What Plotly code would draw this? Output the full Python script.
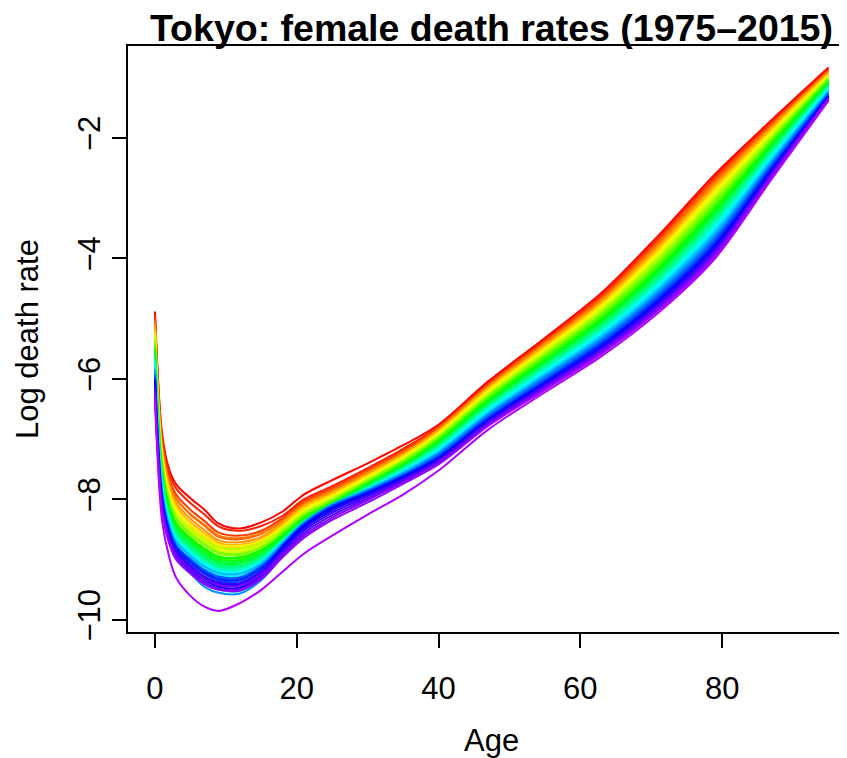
import colorsys
import plotly.graph_objects as go

# ---- data ----
years = list(range(1975, 2016))
ages = [0, 1, 2, 3, 5, 7, 9, 12, 15, 18, 21, 25, 30, 35, 40, 47, 55, 63, 71, 79, 87, 95]

# log death rate at each age, one value per year 1975..2015
lm_a0 = [-4.88, -4.92, -4.98, -5.02, -5.06, -5.10, -5.16, -5.20, -5.24, -5.28,
         -5.30, -5.34, -5.38, -5.41, -5.44, -5.46, -5.50, -5.52, -5.56, -5.58,
         -5.62, -5.64, -5.66, -5.70, -5.74, -5.76, -5.80, -5.85, -5.83, -5.88,
         -5.92, -5.94, -5.98, -6.00, -6.04, -6.08, -6.12, -6.16, -6.22, -6.26,
         -6.33]
lm_a1 = [-6.90, -6.95, -7.02, -7.08, -7.11, -7.15, -7.20, -7.24, -7.26, -7.30,
         -7.34, -7.35, -7.41, -7.42, -7.47, -7.50, -7.53, -7.54, -7.60, -7.60,
         -7.65, -7.66, -7.71, -7.74, -7.77, -7.78, -7.83, -7.96, -7.85, -8.00,
         -7.91, -7.92, -7.97, -7.97, -8.03, -8.07, -8.05, -8.13, -8.11, -8.18,
         -8.35]
lm_a2 = [-7.50, -7.56, -7.64, -7.70, -7.72, -7.77, -7.82, -7.86, -7.87, -7.92,
         -7.95, -7.95, -8.02, -8.02, -8.08, -8.11, -8.13, -8.13, -8.20, -8.19,
         -8.25, -8.25, -8.30, -8.33, -8.36, -8.36, -8.42, -8.58, -8.42, -8.62,
         -8.48, -8.48, -8.54, -8.53, -8.59, -8.63, -8.60, -8.69, -8.66, -8.73,
         -8.95]
lm_a3 = [-7.75, -7.82, -7.92, -7.98, -8.00, -8.06, -8.11, -8.16, -8.16, -8.22,
         -8.25, -8.24, -8.32, -8.31, -8.38, -8.41, -8.43, -8.42, -8.50, -8.48,
         -8.55, -8.54, -8.59, -8.62, -8.66, -8.65, -8.71, -8.90, -8.70, -8.94,
         -8.77, -8.76, -8.82, -8.80, -8.87, -8.91, -8.86, -8.96, -8.92, -9.00,
         -9.30]
lm_a5 = [-7.98, -8.06, -8.17, -8.25, -8.24, -8.32, -8.38, -8.44, -8.42, -8.49,
         -8.52, -8.49, -8.58, -8.56, -8.63, -8.66, -8.68, -8.65, -8.74, -8.71,
         -8.79, -8.77, -8.82, -8.85, -8.90, -8.88, -8.95, -9.18, -8.93, -9.22,
         -9.01, -8.99, -9.06, -9.03, -9.11, -9.16, -9.10, -9.20, -9.14, -9.23,
         -9.60]
lm_a7 = [-8.17, -8.25, -8.36, -8.44, -8.42, -8.51, -8.56, -8.62, -8.60, -8.67,
         -8.70, -8.66, -8.76, -8.74, -8.81, -8.84, -8.86, -8.82, -8.92, -8.89,
         -8.97, -8.95, -9.00, -9.03, -9.08, -9.06, -9.13, -9.40, -9.11, -9.45,
         -9.19, -9.17, -9.24, -9.21, -9.29, -9.34, -9.28, -9.38, -9.32, -9.41,
         -9.78]
lm_a9 = [-8.40, -8.45, -8.55, -8.62, -8.60, -8.68, -8.72, -8.78, -8.75, -8.82,
         -8.85, -8.80, -8.90, -8.88, -8.95, -8.98, -9.00, -8.95, -9.05, -9.02,
         -9.10, -9.08, -9.12, -9.15, -9.20, -9.18, -9.25, -9.50, -9.22, -9.55,
         -9.30, -9.28, -9.35, -9.32, -9.40, -9.45, -9.38, -9.48, -9.42, -9.50,
         -9.85]
lm_a12 = [-8.48, -8.52, -8.60, -8.66, -8.64, -8.71, -8.75, -8.80, -8.77, -8.84,
          -8.87, -8.82, -8.92, -8.90, -8.96, -8.99, -9.01, -8.96, -9.06, -9.03,
          -9.11, -9.09, -9.13, -9.16, -9.21, -9.19, -9.26, -9.52, -9.23, -9.56,
          -9.31, -9.29, -9.36, -9.33, -9.41, -9.46, -9.39, -9.49, -9.43, -9.51,
          -9.72]
lm_a15 = [-8.38, -8.44, -8.52, -8.57, -8.56, -8.62, -8.66, -8.70, -8.68, -8.73,
          -8.76, -8.72, -8.80, -8.79, -8.84, -8.86, -8.88, -8.84, -8.92, -8.90,
          -8.96, -8.95, -8.98, -9.00, -9.05, -9.03, -9.08, -9.30, -9.06, -9.34,
          -9.12, -9.10, -9.17, -9.14, -9.22, -9.26, -9.20, -9.29, -9.24, -9.32,
          -9.50]
lm_a18 = [-8.20, -8.27, -8.31, -8.34, -8.36, -8.38, -8.41, -8.44, -8.46, -8.48,
          -8.50, -8.49, -8.53, -8.55, -8.57, -8.59, -8.60, -8.61, -8.63, -8.64,
          -8.66, -8.67, -8.68, -8.70, -8.71, -8.72, -8.74, -8.90, -8.72, -8.92,
          -8.75, -8.78, -8.76, -8.80, -8.79, -8.83, -8.86, -8.90, -8.93, -8.96,
          -9.20]
lm_a21 = [-7.92, -8.00, -8.03, -8.06, -8.08, -8.10, -8.12, -8.15, -8.17, -8.19,
          -8.21, -8.23, -8.25, -8.27, -8.28, -8.30, -8.31, -8.33, -8.34, -8.35,
          -8.37, -8.38, -8.39, -8.41, -8.42, -8.43, -8.44, -8.48, -8.38, -8.46,
          -8.40, -8.43, -8.41, -8.45, -8.44, -8.48, -8.52, -8.56, -8.60, -8.64,
          -8.90]
lm_a25 = [-7.68, -7.78, -7.81, -7.84, -7.86, -7.88, -7.90, -7.92, -7.94, -7.96,
          -7.98, -7.99, -8.01, -8.02, -8.03, -8.05, -8.06, -8.07, -8.08, -8.09,
          -8.10, -8.11, -8.12, -8.13, -8.14, -8.15, -8.16, -8.18, -8.08, -8.12,
          -8.10, -8.13, -8.11, -8.15, -8.14, -8.18, -8.22, -8.26, -8.30, -8.34,
          -8.60]
lm_a30 = [-7.40, -7.48, -7.51, -7.53, -7.55, -7.57, -7.59, -7.61, -7.62, -7.64,
          -7.66, -7.67, -7.69, -7.70, -7.71, -7.73, -7.74, -7.75, -7.76, -7.77,
          -7.78, -7.79, -7.80, -7.81, -7.82, -7.83, -7.84, -7.85, -7.83, -7.85,
          -7.86, -7.87, -7.88, -7.89, -7.90, -7.92, -7.95, -7.98, -8.01, -8.05,
          -8.25]
lm_a35 = [-7.10, -7.16, -7.19, -7.21, -7.23, -7.25, -7.26, -7.28, -7.30, -7.31,
          -7.33, -7.35, -7.36, -7.37, -7.39, -7.40, -7.42, -7.43, -7.44, -7.46,
          -7.47, -7.48, -7.49, -7.51, -7.52, -7.53, -7.54, -7.55, -7.56, -7.57,
          -7.59, -7.60, -7.61, -7.62, -7.63, -7.65, -7.67, -7.69, -7.71, -7.74,
          -7.92]
lm_a40 = [-6.76, -6.79, -6.80, -6.82, -6.83, -6.85, -6.87, -6.88, -6.90, -6.92,
          -6.93, -6.95, -6.96, -6.98, -7.00, -7.01, -7.03, -7.04, -7.06, -7.08,
          -7.09, -7.11, -7.12, -7.14, -7.16, -7.17, -7.19, -7.21, -7.22, -7.24,
          -7.25, -7.27, -7.29, -7.30, -7.32, -7.34, -7.35, -7.37, -7.39, -7.42,
          -7.52]
lm_a47 = [-6.04, -6.07, -6.09, -6.11, -6.12, -6.14, -6.16, -6.18, -6.20, -6.22,
          -6.24, -6.26, -6.28, -6.30, -6.31, -6.33, -6.35, -6.37, -6.39, -6.41,
          -6.43, -6.45, -6.46, -6.48, -6.50, -6.52, -6.54, -6.56, -6.58, -6.59,
          -6.61, -6.63, -6.65, -6.67, -6.68, -6.70, -6.72, -6.74, -6.76, -6.78,
          -6.84]
lm_a55 = [-5.32, -5.35, -5.37, -5.39, -5.41, -5.43, -5.46, -5.48, -5.50, -5.52,
          -5.54, -5.57, -5.59, -5.61, -5.63, -5.65, -5.68, -5.70, -5.72, -5.74,
          -5.76, -5.79, -5.81, -5.83, -5.85, -5.87, -5.90, -5.92, -5.94, -5.96,
          -5.98, -6.01, -6.03, -6.05, -6.07, -6.09, -6.11, -6.13, -6.15, -6.18,
          -6.22]
lm_a63 = [-4.57, -4.61, -4.63, -4.66, -4.68, -4.71, -4.74, -4.76, -4.79, -4.81,
          -4.84, -4.87, -4.89, -4.92, -4.94, -4.97, -5.00, -5.02, -5.05, -5.07,
          -5.10, -5.13, -5.15, -5.18, -5.20, -5.23, -5.26, -5.28, -5.31, -5.33,
          -5.36, -5.38, -5.41, -5.43, -5.46, -5.48, -5.50, -5.53, -5.55, -5.58,
          -5.62]
lm_a71 = [-3.62, -3.66, -3.69, -3.73, -3.76, -3.79, -3.83, -3.86, -3.90, -3.93,
          -3.96, -4.00, -4.03, -4.06, -4.09, -4.13, -4.16, -4.19, -4.22, -4.25,
          -4.29, -4.32, -4.35, -4.38, -4.41, -4.44, -4.47, -4.50, -4.53, -4.56,
          -4.59, -4.62, -4.65, -4.68, -4.71, -4.74, -4.77, -4.80, -4.83, -4.86,
          -4.90]
lm_a79 = [-2.60, -2.64, -2.67, -2.71, -2.74, -2.78, -2.81, -2.85, -2.88, -2.92,
          -2.95, -2.99, -3.02, -3.06, -3.09, -3.13, -3.16, -3.20, -3.23, -3.27,
          -3.30, -3.34, -3.37, -3.41, -3.44, -3.48, -3.51, -3.55, -3.58, -3.62,
          -3.65, -3.69, -3.72, -3.76, -3.79, -3.83, -3.86, -3.89, -3.93, -3.96,
          -4.00]
lm_a87 = [-1.70, -1.73, -1.75, -1.78, -1.80, -1.82, -1.85, -1.87, -1.90, -1.92,
          -1.95, -1.97, -2.00, -2.02, -2.04, -2.07, -2.09, -2.12, -2.14, -2.17,
          -2.19, -2.21, -2.24, -2.26, -2.29, -2.31, -2.34, -2.36, -2.38, -2.41,
          -2.43, -2.46, -2.48, -2.51, -2.53, -2.55, -2.58, -2.60, -2.63, -2.65,
          -2.68]
lm_a95 = [-0.83, -0.86, -0.87, -0.89, -0.90, -0.91, -0.93, -0.94, -0.96, -0.97,
          -0.98, -1.00, -1.01, -1.03, -1.04, -1.05, -1.07, -1.08, -1.10, -1.11,
          -1.12, -1.14, -1.15, -1.16, -1.18, -1.19, -1.21, -1.22, -1.23, -1.25,
          -1.26, -1.27, -1.29, -1.30, -1.31, -1.32, -1.33, -1.34, -1.35, -1.36,
          -1.38]

age_columns = [lm_a0, lm_a1, lm_a2, lm_a3, lm_a5, lm_a7, lm_a9, lm_a12, lm_a15,
               lm_a18, lm_a21, lm_a25, lm_a30, lm_a35, lm_a40, lm_a47, lm_a55,
               lm_a63, lm_a71, lm_a79, lm_a87, lm_a95]
for col in age_columns:
    assert len(col) == len(years), len(col)

x_ticks = [0, 20, 40, 60, 80]
y_ticks = [-10, -8, -6, -4, -2]

# ---- styling ----
FONT = "Liberation Sans, Arial, Helvetica, sans-serif"
OFF = 8                      # page body margin of the html page
PAGE_W, PAGE_H = 847, 758
W, H = PAGE_W - OFF, PAGE_H - OFF
BOX_L, BOX_T, BOX_B = 128, 46, 632     # plot box in page pixels
L, R, T, B = BOX_L - OFF, 0, BOX_T - OFF, H - (BOX_B - OFF)
PW, PH = W - L - R, H - T - B


def px_x(px):   # page x -> paper x
    return (px - OFF - L) / PW


def px_y(py):   # page y -> paper y
    return 1 - (py - OFF - T) / PH


n_pal = round(len(years) * 1.25)


def rainbow(i):
    r, g, b = colorsys.hsv_to_rgb(i / n_pal, 1.0, 1.0)
    return "#%02X%02X%02X" % (round(r * 255), round(g * 255), round(b * 255))


fig = go.Figure()
for i, yr in enumerate(years):
    fig.add_trace(go.Scatter(
        x=ages, y=[col[i] for col in age_columns], mode="lines", name=str(yr),
        line=dict(color=rainbow(i), width=2, shape="spline", smoothing=0.9),
        showlegend=False, hoverinfo="skip"))

px_per_x = 7.09
x_lo = -3.8
x_hi = x_lo + PW / px_per_x

fig.update_layout(
    width=W, height=H,
    margin=dict(l=L, r=R, t=T, b=B, pad=0),
    paper_bgcolor="white", plot_bgcolor="white",
    font=dict(family=FONT, color="black", size=30),
    xaxis=dict(range=[x_lo, x_hi], tickvals=x_ticks, ticks="outside", ticklen=14,
               tickwidth=1.6, tickcolor="black", showline=True, linecolor="black",
               linewidth=1.6, mirror=True, showgrid=False, zeroline=False,
               tickfont=dict(size=31, family=FONT), ticklabelstandoff=14),
    yaxis=dict(range=[-10.2, -0.473], tickvals=y_ticks, ticks="outside", ticklen=14,
               tickwidth=1.6, tickcolor="black", showline=True, linecolor="black",
               linewidth=1.6, mirror=False, showgrid=False, zeroline=False,
               tickangle=-90, tickfont=dict(size=31, family=FONT), ticklabelstandoff=0),
    annotations=[
        dict(text="Age", xref="paper", yref="paper",
             x=px_x(492), y=px_y(740),
             xanchor="center", yanchor="middle", showarrow=False,
             font=dict(size=31, family=FONT)),
        dict(text="Log death rate", xref="paper", yref="paper",
             x=px_x(27), y=px_y(339), textangle=-90,
             xanchor="center", yanchor="middle", showarrow=False,
             font=dict(size=31, family=FONT)),
        dict(text="<b>Tokyo: female death rates (1975\u20132015)</b>", xref="paper",
             yref="paper", x=px_x(491), y=px_y(28),
             xanchor="center", yanchor="middle", showarrow=False,
             font=dict(size=37.5, family=FONT)),
    ],
)

fig.write_html("out.html")
